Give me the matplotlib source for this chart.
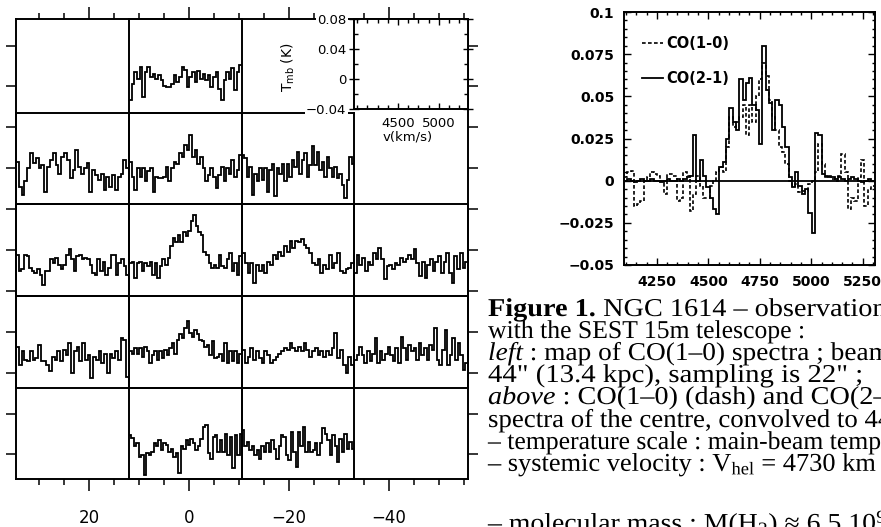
import numpy as np
import matplotlib
matplotlib.use("Agg")
import matplotlib.pyplot as plt
from matplotlib.ticker import MultipleLocator, FixedLocator
from matplotlib.lines import Line2D
from matplotlib import patheffects
from matplotlib.transforms import Affine2D

# ---------------- data (values in mK) ----------------
# CO(1-0) map spectra, keyed by (row, column) of the map grid
r1c2 = [-24, -3, 12, 4, 19, -20, 12, 19, 6, 10, 4, 8, 2, -5, -7, -7, -3, 8, 0, 6, 19, 15, -7, 6, 12,
        0, 14, 4, 10, 2, 8, -7, 6, 12, -9, -24, 2, 12, 4, 17, -11, 12, 21]
r2c1 = [16, -17, -28, -10, 7, 27, 14, 20, 7, 11, -24, 9, 18, 27, 11, 0, 22, 27, 18, -6, 5, 31, 9, 0,
        7, 14, -24, 5, -2, -8, 0, -21, -4, -17, -2, -21, -4, 0, 18, 7]
r2c2 = [16, -4, -21, 7, -4, 7, -10, 3, 7, -24, -4, -6, -6, -4, 9, -10, 7, 16, 13, 27, 22, 38, 31, 51,
        22, 31, 13, 22, 7, -10, -2, 7, -4, -19, -2, 9, -10, 7, 0, 18, -4, 5, 25]
r2c3 = [25, 20, -4, 9, -28, 0, -10, 7, -8, 7, -24, 5, 13, -30, 7, 0, 13, -10, 13, -4, 18, 9, 29, 0,
        18, 27, -4, 11, 36, 11, 29, 5, 16, -4, 22, 7, -4, 9, -6, 0, -15, -32, -8, 22, 13]
r3c1 = [14, -7, -5, 14, 12, -3, -7, -10, -5, -12, -25, -7, -7, 8, 3, 10, 1, -5, 1, 14, 21, 8, -7, 12,
        14, 8, 10, 8, 1, -10, -12, 8, -7, 5, -12, -3, 14, 14, -12, 3, 8, -1, -12]
r3c2 = [3, 5, -16, 3, 5, -7, 3, -1, 5, -12, 3, -16, -1, 8, 1, 10, 25, 36, 30, 40, 30, 43, 38, 45, 58,
        66, 51, 43, 40, 18, 14, 3, -3, 1, -3, 14, -1, -3, 8, 16, -7, 3, -12, 12]
r3c3 = [16, 3, -10, 3, -23, 1, -7, 1, -10, 5, 1, 14, 8, 18, 12, 25, 18, 32, 23, 32, 30, 34, 27, 23,
        16, 3, 1, 8, -10, 1, -5, 14, -3, 3, 16, -7, -10, -5, -3, 3]
r3c4 = [-10, 14, 1, 10, -7, 5, 1, 16, 8, 23, 8, -18, -1, 1, -5, 3, 1, 10, 5, 8, 14, 8, 21, 3, -14, 5,
        -16, 1, 8, -7, 5, 12, -10, 5, 16, -10, -23, 12, -5, 16, -3, 5]
r4c1 = [14, -10, 8, -3, -5, 8, -3, -1, 16, -5, -5, -10, -18, 1, -3, 8, -5, 10, 3, 19, -20, 8, 14, -5,
        19, -3, 3, -27, 1, -3, 8, -7, 5, -20, 5, -1, 8, -3, 25, 23, -25]
r4c2 = [8, 5, 12, 5, 12, 1, 14, 8, -7, 3, 8, -3, 8, -1, 10, 3, 12, 19, 5, 23, 30, 25, 38, 47, 32, 27,
        36, 30, 23, 21, 14, 16, 3, 21, -1, 1, 5, -5, 19, -7, 8, -5, 8, -7, 5]
r4c3 = [10, -7, 1, 12, -3, 8, -1, -7, 8, 3, -7, -3, 1, 5, 8, 12, 10, 19, 12, 8, 14, 8, 19, 10, 1, 8,
        12, 3, 8, 1, 8, 3, 12, 32, -1, 10, -10, -20, 1, -10]
r4c4 = [-3, 3, 14, 3, -7, 8, -5, 5, 25, -7, 8, -3, 5, 14, 3, -5, 12, -7, 27, 12, -3, 16, 8, 12, -3,
        19, 3, 12, -3, 16, 10, 38, -3, -10, 10, 36, -10, 3, 25, -3, 19, 3, -16, -7]
r5c2 = [18, 14, 3, 7, -11, -8, -35, -6, -8, -4, 7, 3, 11, -2, 7, 5, -4, 0, -11, -6, -32, 3, 0, 11, 5,
        13, 7, -2, 3, 13, 29, 31, -6, -13, 16, 18, -4, 11, -4, 20, -8, 16, -26, 18, -8, 20]
r5c3 = [25, 3, 9, -2, 3, -8, -2, -13, 3, -4, 7, -4, 11, 0, -13, 3, 18, 16, -8, -15, 22, -4, -24, 22,
        3, 29, -4, 9, -4, -2, 7, -8, 7, 27, 20, 11, -8, 18, 3, -17, 13, -4, 20, 0, 9, 0]

MAP_SPECTRA = {
    (0, 1): r1c2,
    (1, 0): r2c1, (1, 1): r2c2, (1, 2): r2c3,
    (2, 0): r3c1, (2, 1): r3c2, (2, 2): r3c3, (2, 3): r3c4,
    (3, 0): r4c1, (3, 1): r4c2, (3, 2): r4c3, (3, 3): r4c4,
    (4, 1): r5c2, (4, 2): r5c3,
}
MAP_VMIN, MAP_VMAX = 3963, 5354          # velocity range of each map cell (km/s)

# central spectra (right panel), channel start and width in km/s
CENT_V0, CENT_DV = 4090, 16
co10 = [2, 5, 6, -15, -14, -12, 0, 2, 5, 4, 3, 0, -8, 4, 4, 3, -12, -10, 5, 3,
        -18, -8, 3, -3, -10, -10, -3, 0, 5, 8, 5, 20, 38, 32, 35, 38, 45, 27, 45, 35,
        50, 60, 70, 62, 48, 38, 30, 20, 17, 10, 0, -3, -2, -7, -6, -6, -2, 0, 5, 22,
        10, 2, 3, 1, 0, 3, 16, 5, -17, -10, -12, 2, 12, -15, -5, -3]
co21 = [0, 1, 0, -1, 0, 1, 0, 0, 1, 0, 0, -1, 0, 1, 0, 0, 1, 0, 1, 2, 3,
        27, 0, 12, 3, -4, -10, -17, -20,
        8, 11, 25, 43, 35, 30, 60, 48, 58, 61, 45, 42, 22,
        80, 54, 46, 30, 48, 45, 32, 20, 2, -4, 5, -3, -8, -5, -19, -31,
        28, 27, 4, 3, 2, 2, 1, 2, 1, 0, 1, 2, 1, 0, -1, 0, 1, 0]

CENT_YTICKS = [-0.05, -0.025, 0, 0.025, 0.05, 0.075, 0.1]
CENT_YLABELS = ["\u22120.05", "\u22120.025", "0", "0.025", "0.05", "0.075", "0.1"]
CENT_XTICKS = [4250, 4500, 4750, 5000, 5250]
BOX_YTICKS = [-0.04, 0, 0.04, 0.08]
BOX_YLABELS = ["\u22120.04", "0", "0.04", "0.08"]
BOX_XTICKS = [4500, 5000]

CAPTION = [
    [("Figure 1.", "bold", "normal"), (" NGC 1614 \u2013 observations", "normal", "normal")],
    [("with the SEST 15m telescope :", "normal", "normal")],
    [("left", "normal", "italic"), (" : map of CO(1\u20130) spectra ; beam is", "normal", "normal")],
    [('44" (13.4 kpc), sampling is 22" ;', "normal", "normal")],
    [("above", "normal", "italic"), (" : CO(1\u20130) (dash) and CO(2\u20131)", "normal", "normal")],
    [('spectra of the centre, convolved to 44" ;', "normal", "normal")],
    [("\u2013 temperature scale : main-beam temperature", "normal", "normal")],
    [("\u2013 systemic velocity : V$_{\\rm hel}$ = 4730 km s$^{-1}$", "normal", "normal")],
    [("\u2013 molecular mass : M(H$_2$) \u2248 6.5 10$^9$ M$_\\odot$", "normal", "normal")],
]

# ---------------- layout ----------------
W, H = 881, 527
plt.rcParams["font.family"] = ["DejaVu Sans"]
plt.rcParams["mathtext.fontset"] = "custom"
plt.rcParams["mathtext.rm"] = "Liberation Serif"
plt.rcParams["mathtext.it"] = "Liberation Serif:italic"
plt.rcParams["mathtext.bf"] = "Liberation Serif:bold"
plt.rcParams["mathtext.sf"] = "DejaVu Sans"

fig = plt.figure(figsize=(W / 100, H / 100), dpi=100)


def rect(x0, y0, x1, y1):
    return [x0 / W, 1 - y1 / H, (x1 - x0) / W, (y1 - y0) / H]


class HStretch(patheffects.AbstractPathEffect):
    """Draw text glyphs stretched horizontally about a fixed display x (justified-line look)."""

    def __init__(self, sx, x0):
        super().__init__()
        self.sx = sx
        self.x0 = x0

    def draw_path(self, renderer, gc, tpath, affine, rgbFace=None):
        st = Affine2D().translate(-self.x0, 0).scale(self.sx, 1).translate(self.x0, 0)
        renderer.draw_path(gc, tpath, affine + st, rgbFace)


COL_PX = [16, 129, 242, 354, 468]
ROW_PX = [19, 113, 204, 296, 388, 479]
LW_SP = 1.4

# outer frame with offsets in arcsec
frame = fig.add_axes(rect(COL_PX[0], ROW_PX[0], COL_PX[-1], ROW_PX[-1]))
frame.set_xlim(34.6, -55.8)
frame.set_ylim(-56, 56.5)
frame.xaxis.set_major_locator(MultipleLocator(20))
frame.xaxis.set_minor_locator(MultipleLocator(5))
frame.yaxis.set_major_locator(MultipleLocator(10))
frame.yaxis.set_minor_locator(plt.NullLocator())
frame.tick_params(which="both", direction="out", top=True, right=True,
                  labelleft=False, labelright=False, labeltop=False, labelbottom=True, width=1.1)
frame.tick_params(axis="x", which="major", length=8.5, pad=13, labelsize=12)
frame.tick_params(axis="x", which="minor", length=4.3)
frame.tick_params(axis="y", which="major", length=7)
for s in frame.spines.values():
    s.set_linewidth(LW_SP)

# map cells
for (r, c), vals in MAP_SPECTRA.items():
    ax = fig.add_axes(rect(COL_PX[c], ROW_PX[r], COL_PX[c + 1], ROW_PX[r + 1]))
    y = np.array(vals, dtype=float) / 1000.0
    edges = np.linspace(MAP_VMIN, MAP_VMAX, len(y) + 1)
    ax.stairs(y, edges, color="k", lw=1.3, baseline=None)
    ax.set_xlim(MAP_VMIN, MAP_VMAX)
    ax.set_ylim(-0.04, 0.08)
    ax.set_xticks([])
    ax.set_yticks([])
    ax.patch.set_visible(False)
    for s in ax.spines.values():
        s.set_linewidth(LW_SP)

# scale box (top right cell)
box = fig.add_axes(rect(354, 19, 468, 109))
box.set_zorder(5)
box.set_xlim(MAP_VMIN, MAP_VMAX)
box.set_ylim(-0.04, 0.08)
box.xaxis.set_major_locator(FixedLocator(BOX_XTICKS))
box.xaxis.set_minor_locator(MultipleLocator(125))
box.yaxis.set_major_locator(FixedLocator(BOX_YTICKS))
box.yaxis.set_minor_locator(MultipleLocator(0.02))
box.set_yticklabels(BOX_YLABELS)
box.set_xticklabels([str(v) for v in BOX_XTICKS])
box.tick_params(which="both", direction="in", top=True, right=True, labelsize=9.5, width=1.0)
box.tick_params(axis="y", which="major", direction="inout", length=7, pad=2)
box.tick_params(axis="y", which="minor", length=3)
box.tick_params(axis="x", which="major", length=4, pad=6)
box.tick_params(axis="x", which="minor", length=3)
for t in box.get_yticklabels():
    t.set_bbox(dict(facecolor="white", edgecolor="none", pad=1.0))
box.set_ylabel(r"T$_{\mathsf{mb}}$ (K)", fontsize=10)
box.yaxis.set_label_coords(-0.5, 0.47)
box.text(0.47, -0.31, "v(km/s)", transform=box.transAxes, ha="center", va="center", fontsize=9.5)
for s in box.spines.values():
    s.set_linewidth(LW_SP)

# central spectra
sp = fig.add_axes(rect(624, 12, 875, 265))
edges = CENT_V0 + CENT_DV * np.arange(len(co10) + 1)
dash = (0, (2.2, 1.4))
sp.stairs(np.array(co10) / 1000.0, edges, color="k", lw=1.2, ls=dash, baseline=None)
sp.stairs(np.array(co21) / 1000.0, edges, color="k", lw=1.3, baseline=None)
sp.axhline(0, color="k", lw=1.3)
sp.set_xlim(4090, 5310)
sp.set_ylim(-0.05, 0.1)
sp.xaxis.set_major_locator(FixedLocator(CENT_XTICKS))
sp.xaxis.set_minor_locator(MultipleLocator(50))
sp.yaxis.set_major_locator(FixedLocator(CENT_YTICKS))
sp.yaxis.set_minor_locator(MultipleLocator(0.005))
sp.set_yticklabels(CENT_YLABELS)
sp.set_xticklabels([str(v) for v in CENT_XTICKS])
sp.tick_params(which="both", direction="in", top=True, right=True, width=1.0, labelsize=10)
sp.tick_params(which="major", length=5)
sp.tick_params(which="minor", length=2.5)
sp.tick_params(axis="y", pad=7)
sp.tick_params(axis="x", pad=7)
for t in sp.get_xticklabels() + sp.get_yticklabels():
    t.set_fontweight("bold")
for s in sp.spines.values():
    s.set_linewidth(LW_SP)
handles = [Line2D([], [], color="k", lw=1.2, ls=dash), Line2D([], [], color="k", lw=1.3)]
sp.legend(handles, ["CO(1-0)", "CO(2-1)"], loc="upper left", bbox_to_anchor=(0.07, 0.905),
          frameon=False, handlelength=1.45, handletextpad=0.25, labelspacing=1.4,
          borderpad=0, borderaxespad=0, prop={"weight": "bold", "size": 10.5})

# caption (Times-like serif; justified lines of the printed page widened per line)
renderer = fig.canvas.get_renderer()
CAP_X = 488
CAP_BASE = [316, 338, 360, 382, 404, 427, 449, 471, 531]
CAP_SX = [1.10, 1.0, 1.065, 1.12, 1.10, 1.045, 1.0, 1.027, 1.08]
CAP_SIZE = 18.5
for pieces, base, sx in zip(CAPTION, CAP_BASE, CAP_SX):
    x = CAP_X
    for txt, weight, style in pieces:
        t = fig.text(x / W, 1 - base / H, txt, fontsize=CAP_SIZE,
                     family=["Liberation Serif", "DejaVu Serif"],
                     fontweight=weight, fontstyle=style, ha="left", va="baseline")
        t.set_path_effects([HStretch(sx, CAP_X)])
        x += t.get_window_extent(renderer).width

fig.savefig("out.png", dpi=100)
